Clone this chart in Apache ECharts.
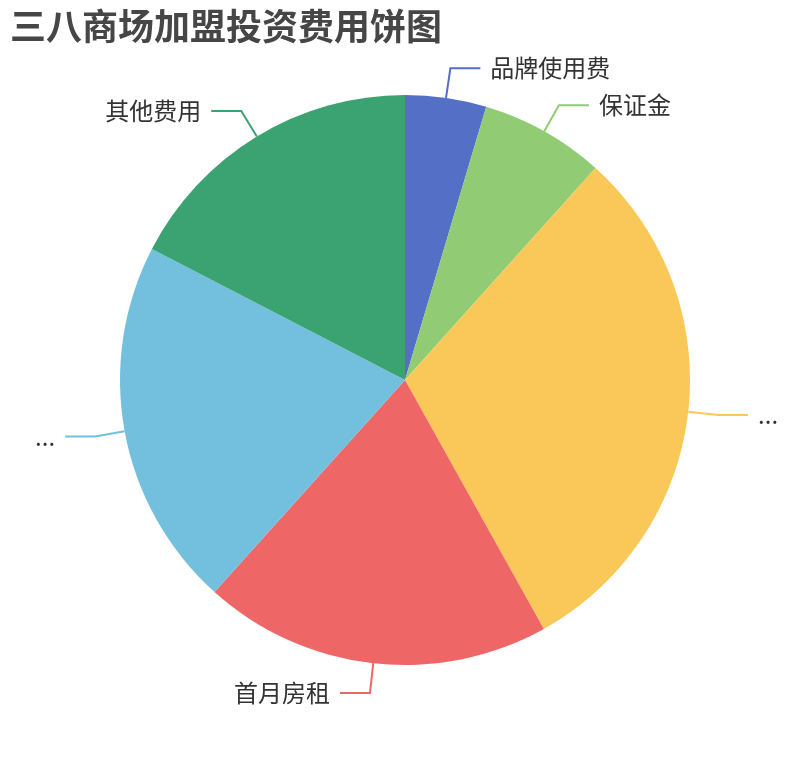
<!DOCTYPE html>
<html>
<head>
<meta charset="utf-8">
<script src="https://cdn.jsdelivr.net/npm/echarts@6/dist/echarts.min.js"></script>
<style>html,body{margin:0;padding:0;background:#fff}#main{width:810px;height:760px}</style>
</head>
<body>
<div id="main"></div>
<script>
var titleText = '三八商场加盟投资费用饼图';
var categories = ['品牌使用费', '保证金', '店铺装修及设备采购费用', '首月房租', '首批进货及铺货备用资金', '其他费用'];
var values = [4.6, 7.05, 30.25, 19.75, 20.95, 17.4];
var colors = ['#5470c6', '#91cc75', '#fac858', '#ee6666', '#73c0de', '#3ba272'];
var truncated = [false, false, true, false, true, false];

var chart = echarts.init(document.getElementById('main'));
chart.setOption({
  color: colors,
  title: {
    text: titleText,
    left: 5,
    top: 3,
    textStyle: { fontSize: 36, fontWeight: 'bold', color: '#464646', fontFamily: 'Noto Sans CJK SC' }
  },
  series: [{
    type: 'pie',
    radius: '75%',
    center: ['50%', '50%'],
    data: categories.map(function (c, i) {
      var d = { name: c, value: values[i] };
      if (truncated[i]) d.label = { width: 28, overflow: 'truncate' };
      return d;
    }),
    label: { fontSize: 24, color: '#333', fontFamily: 'Noto Sans CJK SC', distanceToLabelLine: 10 },
    labelLine: { length: 30, length2: 30, lineStyle: { width: 2 } }
  }]
});
</script>
</body>
</html>
